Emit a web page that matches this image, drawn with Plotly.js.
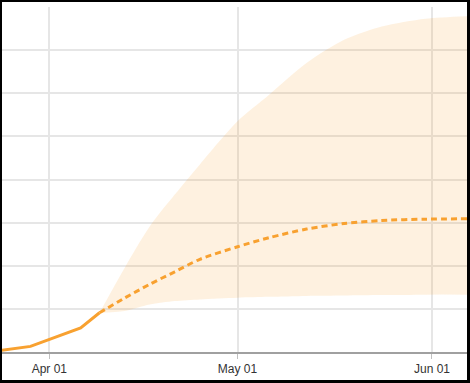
<!DOCTYPE html>
<html>
<head>
<meta charset="utf-8">
<script src="https://cdn.plot.ly/plotly-3.0.1.min.js"></script>
<style>
  html, body { margin: 0; padding: 0; background: #fff; }
  #frame {
    width: 470px; height: 383px; box-sizing: border-box;
    border-style: solid; border-color: #000;
    border-width: 2px 3px 3px 2px;
  }
  #chart { width: 465px; height: 378px; }
</style>
</head>
<body>
<div id="frame"><div id="chart"></div></div>
<script>
// Observed (solid line)
const actualDates = ['2020-03-24', '2020-03-29', '2020-04-06', '2020-04-09'];
const actualValues = [0.03, 0.13, 0.56, 0.91];

// Forecast (dashed median + band)
const forecastDates = ['2020-04-09', '2020-04-13', '2020-04-17', '2020-04-21', '2020-04-25',
  '2020-05-01', '2020-05-06', '2020-05-12', '2020-05-18', '2020-05-24', '2020-05-31', '2020-06-07'];
const forecastMedian = [0.91, 1.25, 1.57, 1.86, 2.15, 2.44, 2.65, 2.85, 2.98, 3.05, 3.08, 3.09];
const forecastUpper = [0.91, 1.95, 2.91, 3.65, 4.35, 5.35, 5.96, 6.70, 7.24, 7.55, 7.73, 7.79];
const forecastLower = [0.91, 0.95, 1.10, 1.18, 1.22, 1.26, 1.28, 1.30, 1.31, 1.32, 1.33, 1.33];

// Axis ticks
const tickDates = ['2020-04-01', '2020-05-01', '2020-06-01'];
const tickLabels = ['Apr 01', 'May 01', 'Jun 01'];

const orange = 'rgb(248,161,48)';

const traces = [
  { x: forecastDates, y: forecastLower, type: 'scatter', mode: 'lines',
    line: { width: 0, shape: 'spline', smoothing: 0.8, color: 'rgba(0,0,0,0)' }, hoverinfo: 'skip', showlegend: false },
  { x: forecastDates, y: forecastUpper, type: 'scatter', mode: 'lines', fill: 'tonexty',
    fillcolor: 'rgba(247,160,50,0.15)',
    line: { width: 0, shape: 'spline', smoothing: 0.8, color: 'rgba(0,0,0,0)' }, hoverinfo: 'skip', showlegend: false },
  { x: forecastDates, y: forecastMedian, type: 'scatter', mode: 'lines',
    line: { width: 3, color: orange, dash: '6px,4px', shape: 'spline', smoothing: 0.8 }, showlegend: false },
  { x: actualDates, y: actualValues, type: 'scatter', mode: 'lines',
    line: { width: 3, color: orange }, showlegend: false }
];

const layout = {
  width: 465, height: 378,
  margin: { l: 0, r: 0, t: 5, b: 28 },
  paper_bgcolor: '#fff', plot_bgcolor: '#fff',
  showlegend: false,
  xaxis: {
    type: 'date',
    range: ['2020-03-24 11:00', '2020-06-06 14:00'],
    tickvals: tickDates, ticktext: tickLabels,
    showgrid: true, gridcolor: '#e6e6e6', gridwidth: 2,
    showline: true, linecolor: '#a0a0a0', linewidth: 1.5,
    ticks: 'outside', ticklen: 5, tickcolor: '#c0c0c0', tickwidth: 1,
    tickfont: { family: 'Liberation Sans, Arial, sans-serif', size: 12, color: '#333' },
    zeroline: false, fixedrange: true
  },
  yaxis: {
    range: [0, 8], dtick: 1, tick0: 0,
    showticklabels: false,
    showgrid: true, gridcolor: '#e6e6e6', gridwidth: 2,
    zeroline: false, showline: false, fixedrange: true
  }
};

Plotly.newPlot('chart', traces, layout, { displayModeBar: false, staticPlot: true });
</script>
</body>
</html>
